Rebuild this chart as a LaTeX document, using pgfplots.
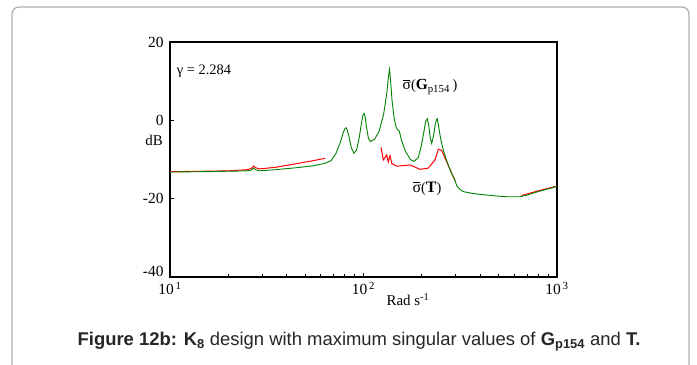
\documentclass[border=0pt]{standalone}
\usepackage{pgfplots}
\pgfplotsset{compat=1.18}
\usepackage{fontspec}
\setmainfont{Liberation Serif}
\newfontfamily\capfont{Liberation Sans}
\definecolor{dgreen}{RGB}{0,130,0}
\definecolor{bordergray}{RGB}{178,178,178}
\newcommand{\sbar}{\makebox[0pt][l]{\raisebox{0.62em}{\rule{0.48em}{0.5pt}}}σ}

\pgfplotstableread{
w db
10 -13.2
15 -13.1
20 -13.0
25 -12.9
26.3 -12.7
27.0 -12.2
27.7 -12.6
28.8 -12.9
35 -12.6
45 -12.1
55 -11.6
63 -11.0
68 -10.3
72 -8.5
76 -5.5
78.5 -3.2
80.2 -2.1
81.2 -1.9
82.2 -2.3
84 -4.0
86.5 -7.0
89.3 -8.4
92 -7.6
95 -4.5
97.5 -0.8
99.3 1.3
100.6 1.8
101.8 1.1
103.5 -1.5
106 -4.6
108.5 -5.4
114 -4.8
120 -3
127 1.5
132 7
134.8 11.5
136.2 13.0
137.6 11
140.5 5
144 0.5
147.5 -1.8
150 -2.4
153 -2.7
157 -5
165 -8
175 -10
182.4 -10.5
192 -9.5
199 -6.5
205 -3
209.5 -0.2
213.7 0.4
217.5 -1.4
221 -4.3
225.2 -5.9
230 -4
234.5 -1.2
238 0.1
240.7 0.4
244 -1.3
250 -4.5
258.5 -7.6
266 -9.6
274.3 -11.4
283 -13.2
291.2 -14.4
297 -15.3
303.2 -16.7
315 -17.6
328 -18.2
360 -18.6
400 -18.9
480 -19.3
549.7 -19.5
600 -19.5
644 -19.5
697 -19.1
800 -18.2
900 -17.5
1000 -16.9
}\gtab

\pgfplotstableread{
w db
10 -13.1
15 -13.0
20 -12.9
25 -12.6
26.3 -12.3
27.0 -11.7
27.7 -12.1
29 -12.4
35 -12.0
47 -10.9
55 -10.3
63.2 -9.7
}\rone

\pgfplotstableread{
w db
123.2 -6.9
126.6 -10.1
129.2 -9.5
131.8 -8.8
134.3 -10.6
137.1 -9.0
139.9 -11.0
148.4 -11.7
173.9 -11.4
195.9 -12.5
216.2 -12.2
234.2 -10.1
243.6 -7.4
253.6 -7.7
269.2 -10.6
285.6 -13.5
297.1 -15.4
}\rtwo

\pgfplotstableread{
w db
655.4 -19.2
800 -18.0
996 -16.8
}\rthree

\begin{document}
\begin{tikzpicture}
\useasboundingbox (0,0) rectangle (697bp,-365bp);
\fill[white] (0,0) rectangle (697bp,-365bp);
\draw[bordergray, line width=1.3bp, rounded corners=7bp] (12bp,-372bp) -- (12bp,-7bp) -- (689bp,-7bp) -- (689bp,-372bp);
\begin{axis}[
  at={(170bp,-277bp)}, anchor=south west,
  scale only axis, width=387bp, height=235bp,
  xmode=log, xmin=10, xmax=1000, ymin=-40, ymax=20,
  ytick={-40,-20,0,20},
  yticklabels={\raisebox{12bp}{-40},-20,0,\raisebox{-12bp}{20}},
  xtick={10,100,1000},
  xticklabels={10\textsuperscript{\,1},10\textsuperscript{\,2},10\textsuperscript{\,3}},
  tick align=inside, xtick pos=bottom, ytick pos=left,
  axis line style={line width=1.2bp},
  major tick length=4bp, minor tick length=3bp,
  tick style={black, line width=0.8bp},
  ticklabel style={font=\fontsize{15.5}{17}\selectfont},
  yticklabel style={xshift=-3bp},
  xticklabel style={yshift=-2bp},
  clip=false,
]
\addplot[red, line width=1bp] table[x=w,y=db] {\rone};
\addplot[red, line width=1bp] table[x=w,y=db] {\rtwo};
\addplot[red, line width=1bp] table[x=w,y=db] {\rthree};
\addplot[dgreen, line width=0.9bp] table[x=w,y=db] {\gtab};
\end{axis}
\node[font=\fontsize{15}{17}\selectfont] at (154bp,-140bp) {dB};
\node[font=\fontsize{15}{17}\selectfont] at (408bp,-300bp) {Rad s\textsuperscript{-1}};
\node[font=\fontsize{14.5}{16}\selectfont] at (204bp,-71bp) {γ = 2.284};
\node[font=\fontsize{15.5}{17}\selectfont] at (430bp,-87bp) {\sbar{\Large(}\textbf{G}\textsubscript{p154}\,{\Large)}};
\node[font=\fontsize{16}{18}\selectfont] at (427bp,-189bp) {\sbar{\Large(}\textbf{T}{\Large)}};
\node[font=\capfont\fontsize{18.5}{20}\selectfont, text=black!85] at (359bp,-342bp) {\textbf{Figure 12b: K\textsubscript{8}} design with maximum singular values of \textbf{G\textsubscript{p154}} and \textbf{T.}};
\end{tikzpicture}
\end{document}
